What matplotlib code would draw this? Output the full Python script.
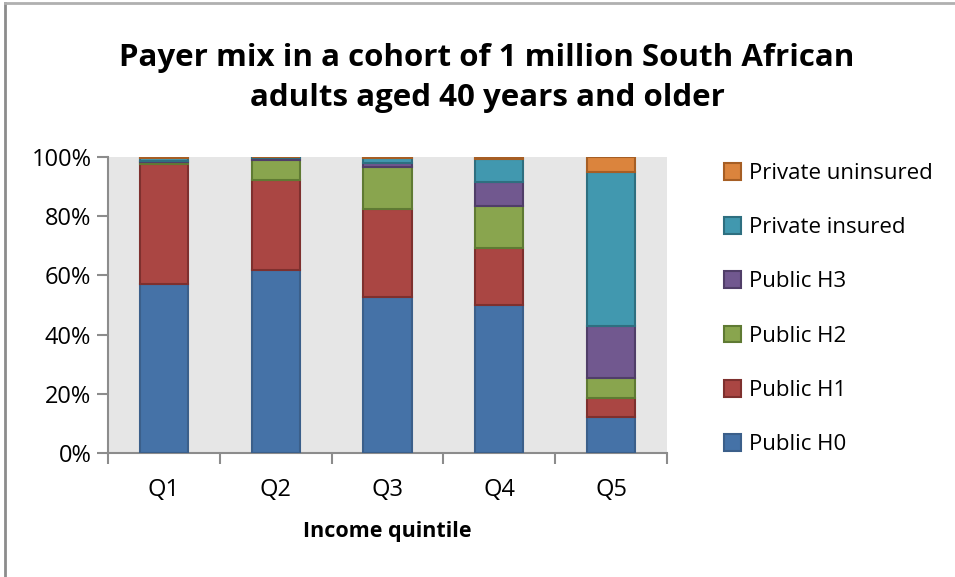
import matplotlib
matplotlib.use("Agg")
import matplotlib.pyplot as plt
from matplotlib.lines import Line2D
from matplotlib.ticker import FuncFormatter
import numpy as np

plt.rcParams['font.family'] = ['Open Sans', 'DejaVu Sans']

quintiles = ["Q1", "Q2", "Q3", "Q4", "Q5"]
public_h0 = [57.1, 61.8, 52.7, 50.0, 12.2]
public_h1 = [40.6, 30.4, 29.7, 19.2, 6.3]
public_h2 = [0.6, 6.8, 14.3, 14.2, 7.0]
public_h3 = [0.2, 0.6, 1.4, 8.1, 17.3]
private_ins = [1.3, 0.4, 1.4, 7.8, 52.2]
private_unins = [0.2, 0.0, 0.5, 0.7, 5.0]

series = [
    ("Public H0", public_h0, "#4572A7", "#3B5F8A"),
    ("Public H1", public_h1, "#AA4643", "#7E302E"),
    ("Public H2", public_h2, "#89A54E", "#5F7A33"),
    ("Public H3", public_h3, "#71588F", "#503E68"),
    ("Private insured", private_ins, "#4198AF", "#2E6F80"),
    ("Private uninsured", private_unins, "#DB843D", "#A65E24"),
]

fig = plt.figure(figsize=(9.55, 5.77), dpi=100)
ax = fig.add_axes([108 / 955, 1 - 453 / 577, (667 - 108) / 955, (453 - 157) / 577])
ax.set_facecolor("#E6E6E6")

x = np.arange(len(quintiles))
bottom = np.zeros(len(quintiles))
handles = []
for name, vals, col, edge in series:
    vals = np.array(vals)
    b = ax.bar(x, vals, 0.43, bottom=bottom, color=col, edgecolor=edge,
               linewidth=1.5, label=name, zorder=3)
    bottom += vals
    handles.append(b)

ax.set_xlim(-0.5, 4.5)
ax.set_ylim(0, 100)
ax.set_yticks(np.arange(0, 101, 20))
ax.yaxis.set_major_formatter(FuncFormatter(lambda v, p: "%d%%" % v))
ax.set_xticks(x)
ax.set_xticklabels(quintiles)
ax.set_xticks(np.arange(-0.5, 4.6, 1), minor=True)

for s in ["top", "right"]:
    ax.spines[s].set_visible(False)
for s in ["left", "bottom"]:
    ax.spines[s].set_color("#8C8C8C")
    ax.spines[s].set_linewidth(1.5)

ax.tick_params(axis="y", length=8, width=1.5, color="#8C8C8C", labelsize=17, pad=4)
ax.tick_params(axis="x", which="major", length=0, labelsize=17, pad=18)
ax.tick_params(axis="x", which="minor", length=8, width=1.5, color="#8C8C8C")

ax.set_xlabel("Income quintile", fontsize=15.5, fontweight="bold", labelpad=14)

fig.text(0.51, 1 - 78 / 577, "Payer mix in a cohort of 1 million South African\nadults aged 40 years and older",
         ha="center", va="center", fontsize=22.5, fontweight="bold", linespacing=1.42)

leg = fig.legend(handles[::-1], [s[0] for s in series][::-1],
                 loc="upper left", bbox_to_anchor=(704 / 955, 1 - 143 / 577),
                 frameon=False, fontsize=16, handlelength=0.78, handleheight=0.78,
                 handletextpad=0.35, labelspacing=1.49)

fig.add_artist(Line2D([5 / 955, 5 / 955], [0, 1 - 3 / 577], color="#8C8C8C", lw=2))
fig.add_artist(Line2D([5 / 955, 1], [1 - 3 / 577, 1 - 3 / 577], color="#B0B0B0", lw=2))

fig.savefig("out.png", dpi=100)
